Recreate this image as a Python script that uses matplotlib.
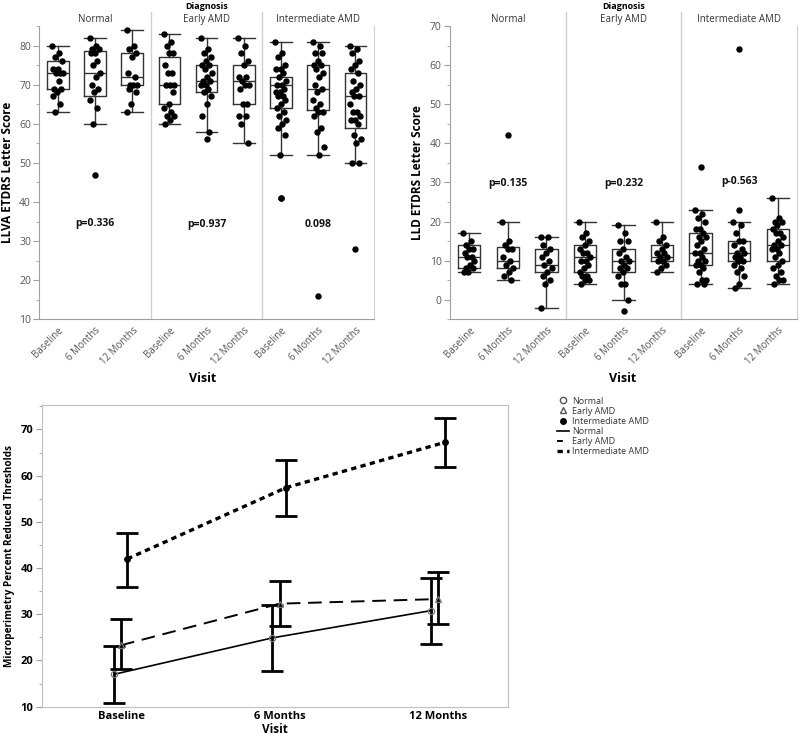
import matplotlib
matplotlib.use('Agg')
import matplotlib.pyplot as plt
import numpy as np
from matplotlib.lines import Line2D

plt.rcParams['font.family'] = ['Open Sans', 'DejaVu Sans']

visits = ['Baseline', '6 Months', '12 Months']
diagnoses = ['Normal', 'Early AMD', 'Intermediate AMD']

# ---------------- LLVA (top-left) ----------------
llva_points = [
    [80, 78, 77, 76, 74, 74, 73, 73, 73, 71, 69, 69, 68, 67, 65, 63],
    [82, 80, 79, 79, 78, 78, 76, 75, 73, 72, 70, 69, 68, 66, 64, 60, 47],
    [84, 80, 79, 78, 77, 73, 72, 70, 70, 70, 69, 68, 65, 63],
    [83, 81, 80, 78, 78, 75, 73, 73, 70, 70, 70, 68, 65, 64, 63, 62, 62, 61, 60],
    [82, 79, 78, 77, 76, 75, 75, 74, 73, 72, 71, 71, 70, 70, 69, 68, 67, 65, 62, 58, 56],
    [82, 80, 78, 76, 75, 72, 72, 71, 70, 70, 69, 65, 65, 62, 62, 60, 55],
    [81, 78, 77, 75, 74, 74, 73, 72, 71, 70, 70, 69, 68, 68, 67, 67, 66, 65, 64, 63,
     62, 61, 60, 59, 57, 52, 41, 41],
    [81, 80, 78, 78, 76, 75, 75, 74, 73, 72, 70, 69, 68, 66, 65, 64, 63, 63, 62, 59,
     58, 54, 52, 16],
    [80, 79, 78, 76, 75, 74, 73, 71, 70, 69, 68, 67, 67, 65, 63, 63, 62, 61, 61, 60,
     57, 56, 55, 50, 50, 28],
]
llva_q1 = [69, 67, 70, 65, 68, 65, 64, 63.5, 59]
llva_med = [73, 73, 72, 70, 71, 71, 70, 69, 67]
llva_q3 = [76, 78.5, 78, 77, 75, 75, 72, 75, 73]
llva_lo = [63, 60, 63, 60, 58, 55, 52, 52, 50]
llva_hi = [80, 82, 84, 83, 82, 82, 81, 81, 80]
llva_pvals = ['p=0.336', 'p=0.937', '0.098']
llva_pval_y = [34.5, 34.3, 34.3]

# ---------------- LLD (top-right) ----------------
lld_points = [
    [17, 15, 14, 13, 13, 12, 11, 11, 10, 9, 8, 8, 7, 7],
    [20, 15, 14, 13, 13, 11, 10, 9, 8, 7, 6, 5, 42],
    [16, 16, 14, 13, 12, 11, 10, 9, 8, 7, 6, 5, 4, -2],
    [20, 17, 16, 15, 14, 13, 12, 12, 11, 10, 10, 9, 8, 7, 6, 6, 5, 5, 4],
    [19, 17, 15, 15, 13, 12, 11, 10, 10, 9, 8, 8, 7, 6, 4, 4, 0, -3],
    [20, 16, 15, 14, 13, 12, 12, 11, 11, 10, 10, 9, 8, 7],
    [23, 22, 21, 20, 18, 18, 17, 16, 16, 15, 14, 13, 12, 12, 11, 10, 10, 9, 9, 8,
     7, 5, 5, 4, 4, 34],
    [20, 19, 17, 15, 15, 14, 13, 12, 12, 11, 11, 10, 10, 9, 8, 7, 6, 4, 3, 23, 64],
    [26, 21, 20, 20, 19, 18, 17, 17, 16, 15, 14, 14, 13, 13, 12, 11, 10, 9, 8, 7,
     6, 5, 5, 4],
]
lld_q1 = [8, 8, 7, 7, 7, 10, 9, 10, 10]
lld_med = [11, 10, 9, 11, 10, 11, 12, 12, 14]
lld_q3 = [14, 13.5, 13, 14, 13, 14, 17, 15, 18]
lld_lo = [7, 5, -2, 4, 0, 7, 4, 3, 4]
lld_hi = [17, 20, 16, 20, 19, 20, 23, 20, 26]
lld_pvals = ['p=0.135', 'p=0.232', 'p-0.563']
lld_pval_y = [29.6, 29.7, 30.3]

# ---------------- Microperimetry (bottom) ----------------
mp_normal = [17.0, 24.9, 30.8]
mp_normal_lo = [10.7, 17.7, 23.6]
mp_normal_hi = [23.2, 32.1, 37.8]
mp_early = [23.3, 32.3, 33.3]
mp_early_lo = [18.2, 27.5, 28.0]
mp_early_hi = [29.0, 37.2, 39.1]
mp_inter = [42.0, 57.4, 67.2]
mp_inter_lo = [36.0, 51.2, 61.8]
mp_inter_hi = [47.6, 63.4, 72.4]

W, H = 800, 739
fig = plt.figure(figsize=(W / 100, H / 100), dpi=100)


def fx(px):
    return px / W


def fy(py):
    return 1 - py / H


SPINE = '#a0a0a0'
TICKC = '#555555'


def box_panel(ax, points, q1, med, q3, lo, hi, ylim, major, minor, pvals, pval_y, ylabel):
    stats = []
    for i in range(9):
        stats.append(dict(med=med[i], q1=q1[i], q3=q3[i], whislo=lo[i], whishi=hi[i], fliers=[]))
    pos = np.arange(9) + 0.5
    lprops = dict(color='#333333', linewidth=1.0)
    ax.bxp(stats, positions=pos, widths=0.58, showfliers=False,
           boxprops=lprops, whiskerprops=lprops, capprops=lprops,
           medianprops=dict(color='#333333', linewidth=1.0), capwidths=0.58,
           manage_ticks=False)
    for i, pts in enumerate(points):
        pts = np.array(pts, dtype=float)
        n = len(pts)
        off = (((np.arange(n) * 0.618034) % 1.0) - 0.5) * 0.3
        outside = (pts > hi[i]) | (pts < lo[i])
        off[outside] = 0.0
        ax.plot(pos[i] + off, pts, 'o', color='black', ms=3.6, zorder=3)
    ax.set_xlim(0, 9)
    ax.set_ylim(*ylim)
    ax.set_yticks(major)
    ax.set_yticks(minor, minor=True)
    ax.set_xticks(pos)
    ax.set_xticklabels(visits * 3, rotation=45, ha='right', rotation_mode='anchor',
                       fontsize=7, color=TICKC)
    ax.tick_params(axis='x', length=0, pad=4)
    ax.tick_params(axis='y', which='major', length=4, color=SPINE, labelsize=7.5,
                   labelcolor=TICKC, pad=2)
    ax.tick_params(axis='y', which='minor', length=2.5, color=SPINE)
    for s in ['left', 'bottom', 'right']:
        ax.spines[s].set_color(SPINE)
    ax.spines['top'].set_visible(False)
    ax.spines['right'].set_color('#d0d0d0')
    for xs in [3, 6]:
        ax.plot([xs, xs], [0, 1.048], transform=ax.get_xaxis_transform(),
                color='#d0d0d0', lw=1.0, clip_on=False)
    for k, d in enumerate(diagnoses):
        ax.text(3 * k + 1.5, 1.023, d, transform=ax.get_xaxis_transform(),
                ha='center', va='center', fontsize=7, color='#333333')
        ax.text(3 * k + 1.5, pval_y[k], pvals[k], ha='center', va='center',
                fontsize=7.5, fontweight='bold', color='#111111')
    ax.text(4.5, 1.066, 'Diagnosis', transform=ax.get_xaxis_transform(),
            ha='center', va='center', fontsize=6.5, fontweight='bold')
    ax.set_ylabel(ylabel, fontsize=8.5, fontweight='bold', labelpad=4)


ax1 = fig.add_axes([fx(39.3), fy(319.3), fx(374 - 39.3), (319.3 - 26) / H])
box_panel(ax1, llva_points, llva_q1, llva_med, llva_q3, llva_lo, llva_hi,
          (10, 85), np.arange(10, 81, 10), np.arange(15, 86, 10),
          llva_pvals, llva_pval_y, 'LLVA ETDRS Letter Score')

ax2 = fig.add_axes([fx(450), fy(319.3), fx(797 - 450), (319.3 - 26) / H])
box_panel(ax2, lld_points, lld_q1, lld_med, lld_q3, lld_lo, lld_hi,
          (-5, 70), np.arange(0, 71, 10), np.arange(-5, 70, 10),
          lld_pvals, lld_pval_y, 'LLD ETDRS Letter Score')

fig.text(fx(203), fy(379), 'Visit', ha='center', va='center', fontsize=9, fontweight='bold')
fig.text(fx(623), fy(379), 'Visit', ha='center', va='center', fontsize=9, fontweight='bold')

# ---------------- bottom chart ----------------
ax3 = fig.add_axes([fx(41.7), fy(706.7), fx(508 - 41.7), (706.7 - 405) / H])
x = np.arange(3)
series = [
    (mp_normal, mp_normal_lo, mp_normal_hi, -0.045, '-', 1.2, 'o', 'none', '#777777', 4.5),
    (mp_early, mp_early_lo, mp_early_hi, 0.0, (0, (7, 4)), 1.4, '^', 'none', '#777777', 5),
    (mp_inter, mp_inter_lo, mp_inter_hi, 0.04, (0, (1.6, 1.3)), 2.4, 'o', 'black', 'black', 4),
]
for mean, lo, hi, off, ls, lw, mk, mfc, mec, ms in series:
    mean = np.array(mean)
    yerr = [mean - np.array(lo), np.array(hi) - mean]
    xs = x + off
    ax3.errorbar(xs, mean, yerr=yerr, fmt='none', ecolor='black', elinewidth=2.0,
                 capsize=8, capthick=2.0, zorder=2)
    ax3.plot(xs, mean, linestyle=ls, color='black', lw=lw, zorder=3)
    ax3.plot(xs, mean, linestyle='none', marker=mk, mfc=mfc, mec=mec, ms=ms, mew=0.9, zorder=4)

ax3.set_xlim(-0.5, 2.44)
ax3.set_ylim(10, 75.3)
ax3.set_yticks(np.arange(10, 71, 10))
ax3.set_yticks(np.arange(15, 76, 10), minor=True)
ax3.set_xticks(x)
ax3.set_xticklabels(visits, fontsize=8, fontweight='bold')
for lab in ax3.get_yticklabels():
    lab.set_fontweight('bold')
ax3.tick_params(axis='x', length=0, pad=3)
ax3.tick_params(axis='y', which='major', length=4, color=SPINE, labelsize=8, pad=2)
ax3.tick_params(axis='y', which='minor', length=2.5, color=SPINE)
for s in ax3.spines.values():
    s.set_color('#c0c0c0')
ax3.set_ylabel('Microperimetry Percent Reduced Thresholds', fontsize=7.2,
               fontweight='bold', labelpad=4)
ax3.set_xlabel('Visit', fontsize=8.5, fontweight='bold', labelpad=1)

handles = [
    Line2D([], [], linestyle='none', marker='o', mfc='none', mec='#555555', ms=4.5),
    Line2D([], [], linestyle='none', marker='^', mfc='none', mec='#555555', ms=4.5),
    Line2D([], [], linestyle='none', marker='o', mfc='black', mec='black', ms=4),
    Line2D([], [], linestyle='-', color='black', lw=1.2),
    Line2D([], [], linestyle=(2, (5, 4)), color='black', lw=1.4),
    Line2D([], [], linestyle=(0, (1.6, 1.3)), color='black', lw=2.4),
]
labels = ['Normal', 'Early AMD', 'Intermediate AMD', 'Normal', 'Early AMD', 'Intermediate AMD']
fig.legend(handles, labels, loc='upper left', bbox_to_anchor=(fx(552), fy(392)),
           frameon=False, fontsize=6.5, handlelength=1.4, handletextpad=0.3,
           labelspacing=0.12, borderpad=0, labelcolor='#333333')

fig.savefig('out.png', dpi=100)
